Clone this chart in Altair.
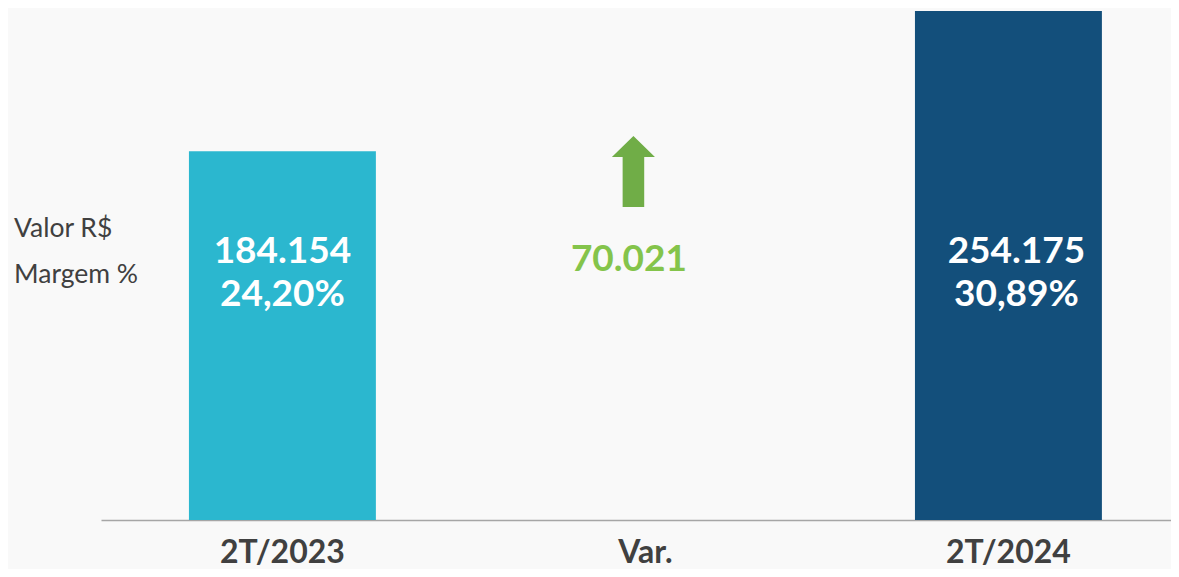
import altair as alt
import pandas as pd

# ---- data ----
categories = ["2T/2023", "Var.", "2T/2024"]
bar_categories = ["2T/2023", "2T/2024"]
bar_values = [184154, 254175]
value_labels = ["184.154", "254.175"]
margin_labels = ["24,20%", "30,89%"]
var_category = ["Var."]
var_label = ["70.021"]
row_labels = ["Valor R$", "Margem %"]
bar_colors = ["#2bb7cf", "#134f7b"]

bars_df = pd.DataFrame({
    "cat": bar_categories,
    "value": bar_values,
    "vlabel": value_labels,
    "mlabel": margin_labels,
})
var_df = pd.DataFrame({"cat": var_category, "label": var_label})

FONT = "Lato"
TEXT_GRAY = "#404040"

x_scale = alt.Scale(domain=categories, paddingInner=0.485, paddingOuter=0.2163, align=0.56)
y_scale = alt.Scale(domain=[0, max(bar_values)], nice=False, zero=True)

base_bars = alt.Chart(bars_df)

bars = base_bars.mark_bar().encode(
    x=alt.X("cat:N", scale=x_scale, sort=categories,
            axis=alt.Axis(title=None, labelAngle=0, ticks=False, tickSize=0,
                          labelFont=FONT, labelFontWeight="bold", labelFontSize=32,
                          labelColor=TEXT_GRAY, labelPadding=42, labelBaseline="alphabetic",
                          domainColor="#a6a6a6", domainWidth=1.5, grid=False)),
    y=alt.Y("value:Q", scale=y_scale, axis=None),
    color=alt.Color("cat:N", scale=alt.Scale(domain=bar_categories, range=bar_colors), legend=None),
)

def bar_text(field, cat, y, dx):
    return base_bars.transform_filter(alt.datum.cat == cat).mark_text(
        font=FONT, fontWeight="bold", fontSize=37, color="white",
        baseline="alphabetic", align="center", dx=dx,
    ).encode(
        x=alt.X("cat:N", scale=x_scale, sort=categories),
        y=alt.value(y),
        text=f"{field}:N",
    )

texts = [
    bar_text("vlabel", "2T/2023", 252.3, 0),
    bar_text("mlabel", "2T/2023", 294.5, 0),
    bar_text("vlabel", "2T/2024", 252.3, 8),
    bar_text("mlabel", "2T/2024", 294.5, 8),
]

arrow_path = ("M0,-1 L0.606,-0.408 L0.304,-0.408 L0.304,1 L-0.304,1 "
              "L-0.304,-0.408 L-0.606,-0.408 Z")

arrow = alt.Chart(var_df).mark_point(
    shape=arrow_path, size=5041, filled=True, color="#70ad47", opacity=1,
    strokeWidth=0, xOffset=-12,
).encode(
    x=alt.X("cat:N", scale=x_scale, sort=categories),
    y=alt.value(160.5),
)

var_text = alt.Chart(var_df).mark_text(
    font=FONT, fontWeight="bold", fontSize=37, color="#84c44b",
    baseline="alphabetic", align="center", dx=-16.5,
).encode(
    x=alt.X("cat:N", scale=x_scale, sort=categories),
    y=alt.value(259.5),
    text="label:N",
)

row_y = [225.5, 272.3]
row_layers = []
for lab, yy in zip(row_labels, row_y):
    row_layers.append(
        alt.Chart(pd.DataFrame({"t": [lab]})).mark_text(
            font=FONT, fontSize=26.5, color=TEXT_GRAY, align="left", baseline="alphabetic",
        ).encode(x=alt.value(-87), y=alt.value(yy), text="t:N")
    )

chart = alt.layer(bars, *texts, arrow, var_text, *row_layers).properties(
    width=1070, height=509,
    autosize=alt.AutoSizeParams(type="none"),
    padding={"left": 93, "top": 3, "right": 0, "bottom": 49},
    background="#f9f9f9",
).configure_view(stroke=None)

chart.save("out.html", embed_options={"renderer": "svg", "actions": False})
